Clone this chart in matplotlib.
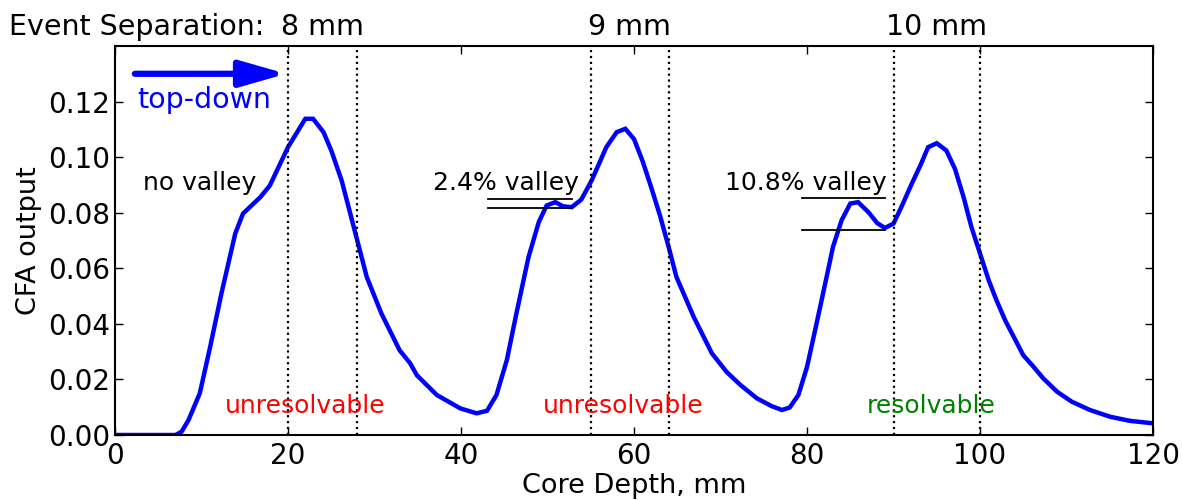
import numpy as np
import matplotlib
matplotlib.use('Agg')
import matplotlib.pyplot as plt

# CFA output vs core depth
depth = [0.0, 7.0, 7.7, 8.5, 9.8, 11.0, 12.3, 13.9, 14.8, 16.8, 17.9, 20.0, 22.0, 22.9,
         24.1, 25.0, 26.2, 27.9, 29.1, 30.8, 32.9, 34.1, 34.9, 37.2, 39.9, 41.8, 43.0,
         44.1, 45.3, 46.4, 47.8, 49.0, 49.9, 50.9, 51.8, 52.8, 53.9, 55.1, 56.8, 58.0,
         59.0, 60.0, 61.0, 62.0, 63.0, 64.0, 64.9, 66.9, 69.0, 70.7, 72.3, 74.2, 75.9, 77.1,
         78.0, 79.0, 80.0, 81.1, 82.1, 83.0, 84.0, 85.0, 85.9, 87.1, 88.1, 89.0, 90.0,
         90.9, 92.1, 93.1, 94.0, 95.0, 96.1, 97.1, 98.1, 99.0, 100.0, 101.0, 101.9,
         102.9, 103.9, 105.0, 106.2, 107.3, 108.9, 110.6, 112.7, 115.0, 117.3, 120.0]
cfa = [0.0, 0.0, 0.0012, 0.0054, 0.015, 0.0317, 0.0509, 0.0725, 0.0797, 0.0856, 0.0898,
       0.1036, 0.1138, 0.1138, 0.109, 0.1024, 0.0916, 0.0713, 0.0569, 0.0437, 0.0305,
       0.0259, 0.0215, 0.0144, 0.0096, 0.0078, 0.0087, 0.0144, 0.027, 0.0437, 0.064,
       0.0767, 0.0826, 0.0838, 0.0823, 0.082, 0.0847, 0.0916, 0.1036, 0.109, 0.1102,
       0.1065, 0.0985, 0.089, 0.079, 0.0677, 0.0569, 0.0425, 0.0294, 0.0227, 0.018, 0.0132,
       0.0104, 0.009, 0.0099, 0.0144, 0.0245, 0.0401, 0.0545, 0.0677, 0.0773, 0.0833,
       0.0838, 0.0802, 0.0763, 0.0745, 0.0761, 0.082, 0.0904, 0.097, 0.1036, 0.105,
       0.1024, 0.0958, 0.0856, 0.0749, 0.0653, 0.0557, 0.0485, 0.0413, 0.0353, 0.0287,
       0.0245, 0.0204, 0.0156, 0.012, 0.009, 0.0066, 0.0051, 0.0042]

# event pairs (dotted lines) and their separation
event_pairs = [(20, 28), (55, 64), (90, 100)]
separations = ['8 mm', '9 mm', '10 mm']
verdicts = ['unresolvable', 'unresolvable', 'resolvable']
verdict_colors = ['red', 'red', 'green']
verdict_x = [22.0, 58.7, 94.3]

# valley labels and the peak / trough levels drawn under them
valley_labels = ['no valley', '2.4% valley', '10.8% valley']
valley_label_x = [3.2, 36.8, 70.5]
valley_lines_x = [(43.1, 52.8), (79.4, 89.0)]
valley_levels = [(0.0848, 0.0816), (0.0852, 0.0737)]

fig = plt.figure(figsize=(11.82, 5.0), dpi=100)
ax = fig.add_axes([0.0973, 0.13, 0.8782, 0.778])

ax.plot(depth, cfa, color='blue', lw=3.2, solid_joinstyle='miter')

for (a, b) in event_pairs:
    ax.axvline(a, color='k', ls=':', lw=1.6)
    ax.axvline(b, color='k', ls=':', lw=1.6)

# separation labels above the axes
top = ax.get_xaxis_transform()
for (a, b), s in zip(event_pairs, separations):
    ax.text((a + b) / 2.0, 1.012, s, transform=top, ha='center', va='bottom', fontsize=20.5)
ax.text(17.3, 1.012, 'Event Separation:', transform=top, ha='right', va='bottom', fontsize=20.5)

for x, t, c in zip(verdict_x, verdicts, verdict_colors):
    ax.text(x, 0.0104, t, color=c, ha='center', va='center', fontsize=18)

for x, t in zip(valley_label_x, valley_labels):
    ax.text(x, 0.0908, t, ha='left', va='center', fontsize=18)

for (x0, x1), levels in zip(valley_lines_x, valley_levels):
    for lv in levels:
        ax.plot([x0, x1], [lv, lv], color='k', lw=1.3)

# top-down arrow
ax.annotate('', xy=(19.8, 0.130), xytext=(2.3, 0.130),
            arrowprops=dict(arrowstyle='-|>,head_length=0.7,head_width=0.2',
                            mutation_scale=40, lw=4.5, color='blue', shrinkA=0, shrinkB=0))
ax.text(2.6, 0.1206, 'top-down', color='blue', ha='left', va='center', fontsize=20.5)

ax.set_xlim(0, 120)
ax.set_ylim(0, 0.14)
ax.set_xticks(np.arange(0, 121, 20))
ax.set_yticks(np.arange(0, 0.121, 0.02))
ax.set_yticklabels(['%.2f' % v for v in np.arange(0, 0.121, 0.02)])
ax.tick_params(direction='in', top=True, right=True, length=6, width=1, labelsize=20)
ax.tick_params(axis='x', pad=5)
for sp in ax.spines.values():
    sp.set_linewidth(1.5)

ax.set_xlabel('Core Depth, mm', fontsize=19.5, labelpad=2)
ax.set_ylabel('CFA output', fontsize=19.5)

fig.savefig('out.png', dpi=100)
